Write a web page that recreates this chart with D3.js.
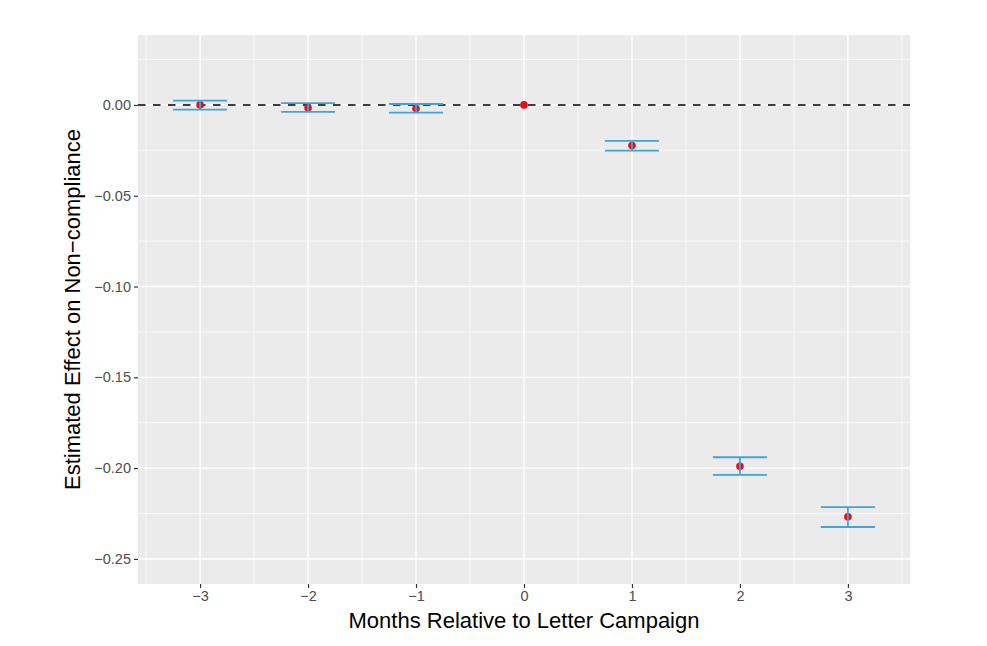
<!DOCTYPE html>
<html>
<head>
<meta charset="utf-8">
<script src="https://cdn.jsdelivr.net/npm/d3@7"></script>
<style>
  body { margin: 0; background: #fff; }
  text { font-family: "Liberation Sans", Arial, sans-serif; }
</style>
</head>
<body>
<svg id="chart" width="987" height="646"></svg>
<script>
// data
const months = [-3, -2, -1, 0, 1, 2, 3];
const estimate = [0.0000, -0.0016, -0.0020, 0.0000, -0.0224, -0.1990, -0.2268];
const ciUpper = [0.0024, 0.0010, 0.0005, null, -0.0198, -0.1940, -0.2215];
const ciLower = [-0.0026, -0.0038, -0.0042, null, -0.0252, -0.2037, -0.2324];

const xTicks = [-3, -2, -1, 0, 1, 2, 3];
const yTicks = [0, -0.05, -0.10, -0.15, -0.20, -0.25];

const rows = months.map((m, i) => ({ m: m, est: estimate[i], hi: ciUpper[i], lo: ciLower[i] }));

const svg = d3.select('#chart');

const panel = { left: 138, right: 910, top: 35, bottom: 584 };

const x = d3.scaleLinear()
    .domain([-3.575, 3.575])
    .range([panel.left, panel.right]);

const y = d3.scaleLinear()
    .domain([-0.2638, 0.0385])
    .range([panel.bottom, panel.top]);

// panel background
svg.append('rect')
    .attr('x', panel.left)
    .attr('y', panel.top)
    .attr('width', panel.right - panel.left)
    .attr('height', panel.bottom - panel.top)
    .attr('fill', '#ebebeb');

const grid = svg.append('g');

// minor grid (halfway between breaks)
const xMinor = [-3.5, -2.5, -1.5, -0.5, 0.5, 1.5, 2.5, 3.5];
const yMinor = [0.025, -0.025, -0.075, -0.125, -0.175, -0.225];

grid.selectAll('.xminor').data(xMinor).enter().append('line')
    .attr('x1', d => x(d)).attr('x2', d => x(d))
    .attr('y1', panel.top).attr('y2', panel.bottom)
    .attr('stroke', '#fff').attr('stroke-width', 0.7);

grid.selectAll('.yminor').data(yMinor).enter().append('line')
    .attr('x1', panel.left).attr('x2', panel.right)
    .attr('y1', d => y(d)).attr('y2', d => y(d))
    .attr('stroke', '#fff').attr('stroke-width', 0.7);

grid.selectAll('.xmajor').data(xTicks).enter().append('line')
    .attr('x1', d => x(d)).attr('x2', d => x(d))
    .attr('y1', panel.top).attr('y2', panel.bottom)
    .attr('stroke', '#fff').attr('stroke-width', 1.4);

grid.selectAll('.ymajor').data(yTicks).enter().append('line')
    .attr('x1', panel.left).attr('x2', panel.right)
    .attr('y1', d => y(d)).attr('y2', d => y(d))
    .attr('stroke', '#fff').attr('stroke-width', 1.4);

// reference line at zero
svg.append('line')
    .attr('x1', panel.left).attr('x2', panel.right)
    .attr('y1', y(0)).attr('y2', y(0))
    .attr('stroke', '#000')
    .attr('stroke-width', 1.5)
    .attr('stroke-dasharray', '7.5,7.5');

// points
svg.selectAll('.pt').data(rows).enter().append('circle')
    .attr('cx', d => x(d.m))
    .attr('cy', d => y(d.est))
    .attr('r', 3.8)
    .attr('fill', '#e0121b');

// error bars
const bars = rows.filter(d => d.hi !== null);
const half = 0.25;
const eb = svg.append('g')
    .attr('stroke', '#43a3d8')
    .attr('stroke-width', 1.8);

eb.selectAll('.top').data(bars).enter().append('line')
    .attr('x1', d => x(d.m - half)).attr('x2', d => x(d.m + half))
    .attr('y1', d => y(d.hi)).attr('y2', d => y(d.hi));

eb.selectAll('.bot').data(bars).enter().append('line')
    .attr('x1', d => x(d.m - half)).attr('x2', d => x(d.m + half))
    .attr('y1', d => y(d.lo)).attr('y2', d => y(d.lo));

eb.selectAll('.vert').data(bars).enter().append('line')
    .attr('x1', d => x(d.m)).attr('x2', d => x(d.m))
    .attr('y1', d => y(d.hi)).attr('y2', d => y(d.lo));

// axes
const minus = s => s.replace('-', '\u2212');

const xAxis = svg.append('g')
    .attr('transform', `translate(0,${panel.bottom})`)
    .call(d3.axisBottom(x).tickValues(xTicks).tickSize(4).tickPadding(3)
        .tickFormat(d => minus(d3.format('d')(d))));

const yAxis = svg.append('g')
    .attr('transform', `translate(${panel.left},0)`)
    .call(d3.axisLeft(y).tickValues(yTicks).tickSize(4).tickPadding(3)
        .tickFormat(d => minus(d3.format('.2f')(d))));

[xAxis, yAxis].forEach(a => {
    a.select('.domain').remove();
    a.selectAll('.tick line').attr('stroke', '#333').attr('stroke-width', 1.2);
    a.selectAll('.tick text')
        .attr('fill', '#4d4d4d')
        .style('font-size', '14.5px')
        .style('font-family', '"Liberation Sans", Arial, sans-serif');
});

// axis titles
svg.append('text')
    .attr('x', (panel.left + panel.right) / 2)
    .attr('y', 628)
    .attr('text-anchor', 'middle')
    .style('font-size', '22px')
    .text('Months Relative to Letter Campaign');

svg.append('text')
    .attr('transform', `translate(80,${(panel.top + panel.bottom) / 2}) rotate(-90)`)
    .attr('text-anchor', 'middle')
    .style('font-size', '22px')
    .text('Estimated Effect on Non\u2212compliance');
</script>
</body>
</html>
